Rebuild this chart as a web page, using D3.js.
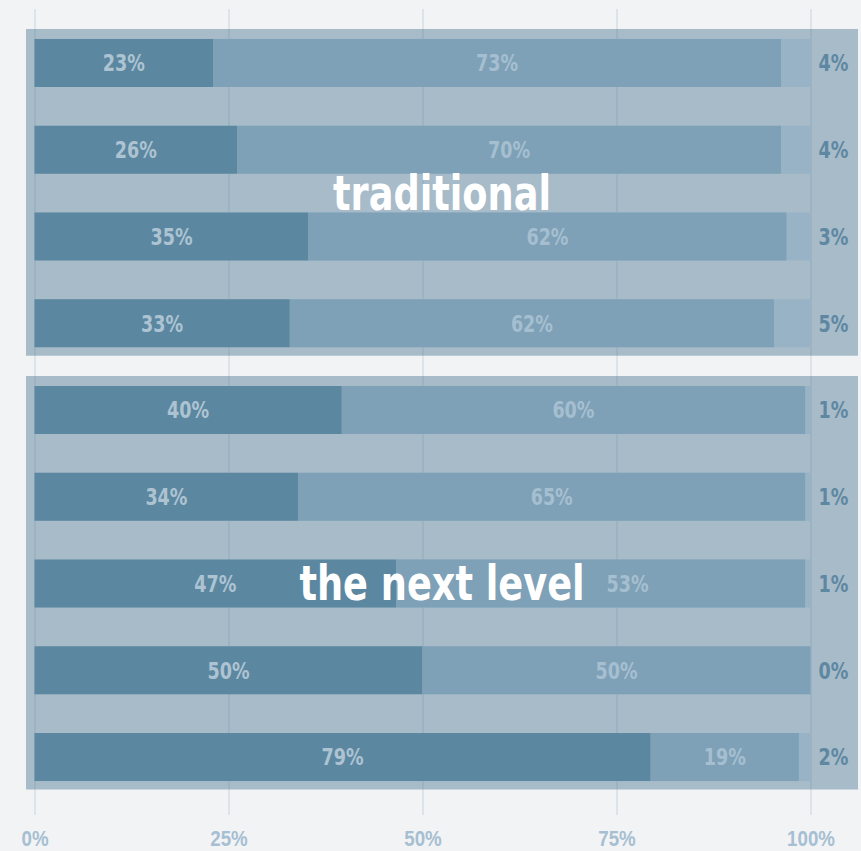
<!DOCTYPE html>
<html>
<head>
<meta charset="utf-8">
<script src="https://cdn.jsdelivr.net/npm/d3@7"></script>
<style>
  body { margin: 0; background: #f2f3f5; }
  svg { display: block; font-family: "DejaVu Sans Condensed", "DejaVu Sans", sans-serif; font-weight: bold; }
</style>
</head>
<body>
<div id="chart"></div>
<script>
// Data
const groupNames = ["traditional", "the next level"];
const rowGroup = [0, 0, 0, 0, 1, 1, 1, 1, 1];
const shareDark = [23.0, 26.1, 35.3, 32.9, 39.6, 34.0, 46.6, 50.0, 79.4];
const shareMid = [73.2, 70.1, 61.6, 62.4, 59.7, 65.3, 52.7, 50.0, 19.1];
const shareOther = [3.8, 3.8, 3.1, 4.6, 0.7, 0.7, 0.7, 0.0, 1.5];
const tickValues = [0, 25, 50, 75, 100];

const width = 861;
const height = 851;

const colors = {
  groupBg: "#a7bbc9",
  rest: "#98b3c5",
  dark: "#5b87a0",
  mid: "#7ea1b7",
  darkLabel: "#adc3d2",
  midLabel: "#a6bfd0",
  otherLabel: "#5e88a2",
  tick: "#a6bfd2"
};

// narrow the DejaVu glyphs a little, the original uses a condensed face
const squeeze = 0.85;

const rows = rowGroup.map((g, i) => ({
  i, group: g, dark: shareDark[i], mid: shareMid[i], other: shareOther[i]
}));

const svg = d3.select("#chart")
  .append("svg")
    .attr("width", width)
    .attr("height", height);

// Scales
const xScale = d3.scaleLinear()
  .domain([0, 100])
  .range([34.5, 810.5]);

const yScale = d3.scaleBand()
  .domain(d3.range(rows.length))
  .range([19.6, 800.4])
  .paddingInner(0.447)
  .paddingOuter(0.2235);

const bw = yScale.bandwidth();
const fmt = v => Math.round(v) + "%";

// Group backgrounds
const groups = groupNames.map((name, g) => {
  const idx = rows.filter(r => r.group === g).map(r => r.i);
  return {
    name,
    y0: yScale(d3.min(idx)) - 10,
    y1: yScale(d3.max(idx)) + bw + 8.5
  };
});

const bgLeft = xScale(0) - 8.5;
const bgRight = xScale(100) + 47.5;

svg.append("g")
    .attr("class", "group-bg")
  .selectAll("rect")
  .data(groups)
  .join("rect")
    .attr("x", bgLeft)
    .attr("y", d => d.y0)
    .attr("width", bgRight - bgLeft)
    .attr("height", d => d.y1 - d.y0)
    .attr("fill", colors.groupBg);

// Grid lines + bottom axis
const axisY = 815;
const bottomAxis = d3.axisBottom(xScale)
  .tickValues(tickValues)
  .tickFormat(d => d + "%")
  .tickSize(-(axisY - 9))
  .tickPadding(15);

const axisG = svg.append("g")
  .attr("class", "x-axis")
  .attr("transform", `translate(0, ${axisY})`)
  .call(bottomAxis);
axisG.select(".domain").remove();
axisG.selectAll(".tick line")
  .attr("stroke", colors.dark)
  .attr("stroke-opacity", 0.14)
  .attr("stroke-width", 2);
axisG.selectAll(".tick text")
  .attr("fill", colors.tick)
  .attr("transform", `scale(${squeeze}, 1)`)
  .style("font-size", "22px")
  .style("font-family", "inherit");

// Rows
const rowG = svg.append("g")
    .attr("class", "rows")
  .selectAll("g")
  .data(rows)
  .join("g")
    .attr("transform", d => `translate(0, ${yScale(d.i)})`);

rowG.append("rect")
  .attr("x", xScale(0))
  .attr("width", xScale(100) - xScale(0))
  .attr("height", bw)
  .attr("fill", colors.rest);

rowG.append("rect")
  .attr("x", xScale(0))
  .attr("width", d => xScale(d.dark) - xScale(0))
  .attr("height", bw)
  .attr("fill", colors.dark);

rowG.append("rect")
  .attr("x", d => xScale(d.dark))
  .attr("width", d => xScale(d.dark + d.mid) - xScale(d.dark))
  .attr("height", bw)
  .attr("fill", colors.mid);

// Labels
const addLabel = (cls, cx, color, value) => {
  rowG.append("text")
    .attr("class", cls)
    .attr("transform", d => `translate(${cx(d)}, ${bw / 2}) scale(${squeeze}, 1)`)
    .attr("dy", "0.36em")
    .attr("text-anchor", "middle")
    .attr("fill", color)
    .style("font-size", "23px")
    .text(d => fmt(value(d)));
};

addLabel("lbl-dark", d => (xScale(0) + xScale(d.dark)) / 2, colors.darkLabel, d => d.dark);
addLabel("lbl-mid", d => (xScale(d.dark) + xScale(d.dark + d.mid)) / 2, colors.midLabel, d => d.mid);
addLabel("lbl-other", () => xScale(100) + 23, colors.otherLabel, d => d.other);

// Group titles
const titles = svg.append("g")
    .attr("class", "titles")
  .selectAll("text")
  .data(groups)
  .join("text")
    .attr("transform", d => `translate(${(bgLeft + bgRight) / 2}, ${(d.y0 + d.y1) / 2}) scale(0.85, 1)`)
    .attr("dy", "0.36em")
    .attr("text-anchor", "middle")
    .attr("fill", "#ffffff")
    .style("font-size", "48px")
    .text(d => d.name);

// Push a mid label out from under a title it would collide with
const titleBoxes = titles.nodes().map(n => n.getBoundingClientRect());
rowG.selectAll(".lbl-mid").each(function(d) {
  const box = this.getBoundingClientRect();
  titleBoxes.forEach(t => {
    const hit = box.left < t.right && box.right > t.left &&
      box.top < t.bottom && box.bottom > t.top;
    if (hit) {
      const cx = t.right + 22 + box.width / 2;
      d3.select(this)
        .attr("transform", `translate(${cx}, ${bw / 2}) scale(${squeeze}, 1)`);
    }
  });
});
</script>
</body>
</html>
